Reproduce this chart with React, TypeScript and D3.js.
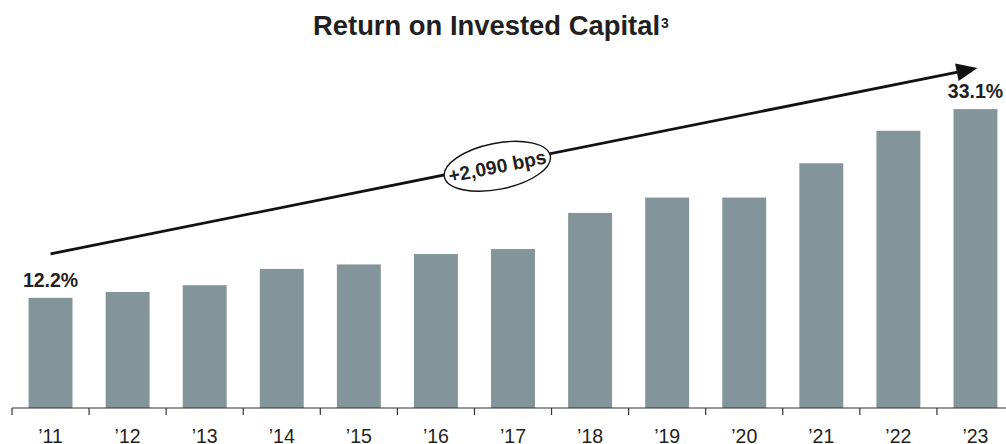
import React from "react";
import * as d3 from "d3";

const years = ["\u201911", "\u201912", "\u201913", "\u201914", "\u201915", "\u201916", "\u201917", "\u201918", "\u201919", "\u201920", "\u201921", "\u201922", "\u201923"];
const roic = [12.2, 12.85, 13.6, 15.4, 15.9, 17.05, 17.6, 21.6, 23.3, 23.3, 27.1, 30.7, 33.1];
const labelled = [0, 12];
const titleText = "Return on Invested Capital";
const titleNote = "3";
const changeText = "+2,090 bps";

const W = 1006;
const H = 444;
const FONT = "'Liberation Sans', Arial, Helvetica, sans-serif";
const BAR = "#83959a";
const INK = "#231f20";

export default function App() {
  const x = d3.scaleBand<string>().domain(years).range([12, 1014]).paddingInner(0.43).paddingOuter(0.215);
  const y = d3.scaleLinear().domain([0, 40]).range([408, 408 - 40 * 9.03]);
  const step = x.step();
  const ticks = years.map((_, i) => 12 + i * step);

  const cx = (i: number) => (x(years[i]) as number) + x.bandwidth() / 2;
  const x0 = cx(0);
  const y0 = y(roic[0]) - 44;
  const x1 = cx(12) + 2;
  const y1 = y(roic[12]) - 41;
  const ang = Math.atan2(y1 - y0, x1 - x0);
  const deg = (ang * 180) / Math.PI;
  const headLen = 21;
  const headHalf = 9;
  const bx = x1 - headLen * Math.cos(ang);
  const by = y1 - headLen * Math.sin(ang);
  const px = -Math.sin(ang);
  const py = Math.cos(ang);
  const t = 0.482;
  const ex = x0 + t * (x1 - x0);
  const ey = y0 + t * (y1 - y0) + 2;

  return (
    <svg width={W} height={H} style={{ position: "absolute", left: 0, top: 0 }} fontFamily={FONT}>
      <rect width={W} height={H} fill="#fff" />
      <text x={313} y={35} textAnchor="start" fontSize={27.4} fontWeight="bold" fill={INK}>
        {titleText}
        <tspan fontSize={14} dy={-7} dx={1}>{titleNote}</tspan>
      </text>
      {roic.map((v, i) => (
        <rect key={i} x={x(years[i])} y={y(v)} width={x.bandwidth()} height={y(0) - y(v)} fill={BAR} />
      ))}
      <line x1={12} x2={1014} y1={y(0)} y2={y(0)} stroke="#333" strokeWidth={1.2} />
      {ticks.map((tx, i) => (
        <line key={i} x1={tx} x2={tx} y1={y(0)} y2={y(0) + 7} stroke="#333" strokeWidth={1.2} />
      ))}
      {years.map((d, i) => (
        <text key={d} x={cx(i)} y={442.5} textAnchor="middle" fontSize={19.5} fill={INK}>
          {d}
        </text>
      ))}
      {labelled.map((i) => (
        <text key={i} x={cx(i)} y={y(roic[i]) - 11} textAnchor="middle" fontSize={19.5} fontWeight="bold" fill={INK}>
          {roic[i].toFixed(1)}%
        </text>
      ))}
      <line x1={x0} y1={y0} x2={bx + 2 * Math.cos(ang)} y2={by + 2 * Math.sin(ang)} stroke="#111" strokeWidth={2.8} />
      <polygon
        points={`${x1},${y1} ${bx + px * headHalf},${by + py * headHalf} ${bx - px * headHalf},${by - py * headHalf}`}
        fill="#111"
      />
      <g transform={`translate(${ex},${ey}) rotate(${deg})`}>
        <ellipse cx={0} cy={0} rx={54} ry={23} fill="#fff" stroke="#111" strokeWidth={1.4} />
        <text x={0} y={6.8} textAnchor="middle" fontSize={19.3} fontWeight="bold" fill={INK}>
          {changeText}
        </text>
      </g>
    </svg>
  );
}
